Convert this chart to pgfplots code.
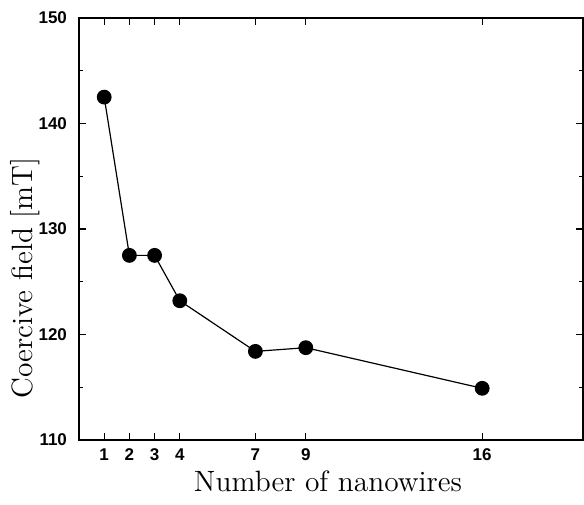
\documentclass[border=0pt]{standalone}
\usepackage{fontspec}
\setsansfont{Liberation Sans}
\usepackage{pgfplots}
\pgfplotsset{compat=1.18}

\begin{document}
\begin{tikzpicture}
\begin{axis}[
    scale only axis,
    width=252pt, height=211pt,
    xmin=0, xmax=20,
    ymin=110, ymax=150,
    xtick={1,2,3,4,7,9,16},
    ytick={110,120,130,140,150},
    minor ytick={115,125,135,145},
    tick align=inside,
    major tick length=3.5pt,
    minor tick length=2.2pt,
    tick style={black, line width=0.6pt},
    axis line style={line width=0.7pt},
    ticklabel style={font=\sffamily\bfseries\fontsize{8.5}{10}\selectfont},
    yticklabel style={xshift=-2.5pt},
    xticklabel style={yshift=-1pt},
    /pgf/number format/assume math mode=true,
    xlabel={Number of nanowires},
    ylabel={Coercive field [mT]},
    label style={font=\fontsize{14.7}{17}\selectfont},
    xlabel style={at={(axis description cs:0.494,-0.123)}, anchor=base},
    ylabel style={at={(axis description cs:-0.107,0.384)}, anchor=center},
]
\addplot[black, line width=0.6pt, mark=*, mark size=3.4pt, mark options={fill=black}]
  coordinates {(1,142.5) (2,127.5) (3,127.5) (4,123.2) (7,118.4) (9,118.75) (16,114.9)};
\end{axis}
\pgfresetboundingbox
\path ([xshift=-39.5pt,yshift=-32pt]current axis.south west) rectangle ([xshift=0.5pt,yshift=9pt]current axis.north east);
\end{tikzpicture}
\end{document}
